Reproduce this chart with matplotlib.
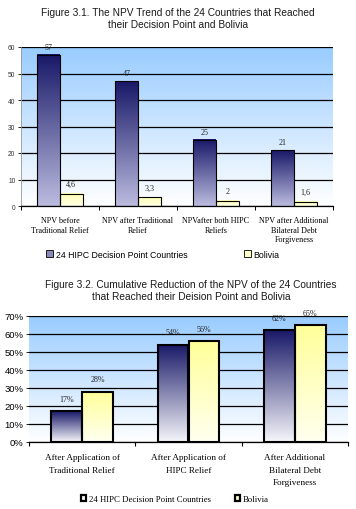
import numpy as np
import matplotlib
matplotlib.use('Agg')
import matplotlib.pyplot as plt
from matplotlib.colors import LinearSegmentedColormap
from matplotlib.patches import Patch

SANS = 'Liberation Sans'
SERIF = 'Liberation Serif'

# Figure 3.1 data
npv_categories = ['NPV before\nTraditional Relief', 'NPV after Traditional\nRelief',
                  'NPVafter both HIPC\nReliefs', 'NPV after Additional\nBilateral Debt\nForgiveness']
npv_hipc = [57, 47, 25, 21]
npv_bolivia = [4.6, 3.3, 2, 1.6]
npv_hipc_labels = ['57', '47', '25', '21']
npv_bolivia_labels = ['4,6', '3,3', '2', '1,6']

# Figure 3.2 data
red_categories = ['After Application of\nTraditional Relief', 'After Application of\nHIPC Relief',
                  'After Additional\nBilateral Debt\nForgiveness']
red_hipc = [17, 54, 62]
red_bolivia = [28, 56, 65]

series_names = ['24 HIPC Decision Point Countries', 'Bolivia']


def gradient_bg(ax):
    cmap = LinearSegmentedColormap.from_list('bg', ['#ffffff', '#99ccff'])
    grad = np.linspace(0, 1, 256).reshape(-1, 1)
    ax.imshow(grad, cmap=cmap, extent=[0, 1, 0, 1], origin='lower', aspect='auto',
              transform=ax.transAxes, zorder=0)


def gradient_bars(ax, bars, bottom, top):
    cmap = LinearSegmentedColormap.from_list('g', [bottom, top])
    grad = np.linspace(0, 1, 256).reshape(-1, 1)
    for b in bars:
        x, w, h = b.get_x(), b.get_width(), b.get_height()
        ax.imshow(grad, cmap=cmap, extent=[x, x + w, 0, h], origin='lower',
                  aspect='auto', zorder=2)
        b.set_facecolor('none')


fig = plt.figure(figsize=(3.56, 5.10), dpi=100)

# ---------- Figure 3.1 ----------
fig.text(0.5, 1 - 18.5 / 510,
         'Figure 3.1. The NPV Trend of the 24 Countries that Reached\ntheir Decision Point and Bolivia',
         ha='center', va='center', fontsize=7.3, family=SANS, linespacing=1.25, color='#1a1a1a')

ax1 = fig.add_axes([21 / 356, 1 - 207 / 510, 312 / 356, 159 / 510])
x = np.arange(len(npv_categories))
w = 0.29
b1 = ax1.bar(x - w / 2, npv_hipc, w, edgecolor='black', linewidth=0.8, zorder=3)
b2 = ax1.bar(x + w / 2, npv_bolivia, w, edgecolor='black', linewidth=0.8, zorder=3)
gradient_bg(ax1)
gradient_bars(ax1, b1, '#bcbce0', '#181868')
gradient_bars(ax1, b2, '#ffffe6', '#ffffb4')
ax1.bar_label(b1, labels=npv_hipc_labels, padding=3, fontsize=5.8, family=SERIF, color='#222222')
ax1.bar_label(b2, labels=npv_bolivia_labels, padding=4, fontsize=5.8, family=SERIF, color='#222222')
ax1.set_xlim(-0.5, 3.5)
ax1.set_ylim(0, 60)
ax1.set_yticks(range(0, 61, 10))
ax1.yaxis.grid(True, color='black', linewidth=0.9)
ax1.set_axisbelow(True)
ax1.set_xticks(x)
ax1.set_xticklabels(npv_categories, fontsize=5.9, family=SERIF, linespacing=1.3)
ax1.set_xticks(np.arange(-0.5, 4, 1), minor=True)
ax1.tick_params(axis='x', which='major', length=0, pad=7)
ax1.tick_params(axis='x', which='minor', length=3, width=0.7)
ax1.tick_params(axis='y', length=2, width=0.6, labelsize=4.8, pad=2, labelcolor='#333333')
for lab in ax1.get_yticklabels():
    lab.set_family(SANS)
for s in ['top', 'right']:
    ax1.spines[s].set_visible(False)
ax1.spines['left'].set_color('#999999')
ax1.spines['left'].set_linewidth(0.6)
ax1.spines['bottom'].set_linewidth(0.9)

fig.legend(handles=[Patch(facecolor='#8a8ab8', edgecolor='black', linewidth=0.6),
                    Patch(facecolor='#ffffc8', edgecolor='black', linewidth=0.6)],
           labels=series_names, loc='center left', bbox_to_anchor=(46 / 356, 1 - 255 / 510),
           ncol=2, frameon=False, prop={'family': SANS, 'size': 6.3},
           handlelength=0.8, handleheight=0.8, handletextpad=0.3, columnspacing=6.5,
           borderpad=0, borderaxespad=0)

# ---------- Figure 3.2 ----------
fig.text(191 / 356, 1 - 291.5 / 510,
         'Figure 3.2. Cumulative Reduction of the NPV of the 24 Countries\nthat Reached their Deision Point and Bolivia',
         ha='center', va='center', fontsize=7.3, family=SANS, linespacing=1.25, color='#1a1a1a')

ax2 = fig.add_axes([29 / 356, 1 - 443 / 510, 319 / 356, 126 / 510])
x2 = np.arange(len(red_categories))
c1 = ax2.bar(x2 - w / 2, red_hipc, w, edgecolor='black', linewidth=1.5, zorder=3)
c2 = ax2.bar(x2 + w / 2, red_bolivia, w, edgecolor='black', linewidth=1.5, zorder=3)
gradient_bg(ax2)
gradient_bars(ax2, c1, '#f6f6fb', '#181868')
gradient_bars(ax2, c2, '#fffff0', '#ffff99')
ax2.bar_label(c1, labels=[f'{v}%' for v in red_hipc], padding=6, fontsize=5.8,
              family=SERIF, color='#222222')
ax2.bar_label(c2, labels=[f'{v}%' for v in red_bolivia], padding=6, fontsize=5.8,
              family=SERIF, color='#222222')
ax2.set_xlim(-0.5, 2.5)
ax2.set_ylim(0, 70)
ax2.set_yticks(range(0, 71, 10))
ax2.set_yticklabels([f'{v}%' for v in range(0, 71, 10)], fontsize=6.8, family=SANS)
ax2.yaxis.grid(True, color='black', linewidth=0.9)
ax2.set_axisbelow(True)
ax2.set_xticks(x2)
ax2.set_xticklabels(red_categories, fontsize=6.6, family=SERIF, linespacing=1.75)
ax2.set_xticks(np.arange(-0.5, 3, 1), minor=True)
ax2.tick_params(axis='x', which='major', length=0, pad=8)
ax2.tick_params(axis='x', which='minor', length=3, width=0.8)
ax2.tick_params(axis='y', length=2, width=0.6, pad=2)
for s in ['top', 'right', 'left']:
    ax2.spines[s].set_visible(False)
ax2.spines['bottom'].set_linewidth(0.9)

fig.legend(handles=[Patch(facecolor='#ffffff', edgecolor='black', linewidth=1.6),
                    Patch(facecolor='#ffffc8', edgecolor='black', linewidth=1.6)],
           labels=series_names, loc='center left', bbox_to_anchor=(81 / 356, 1 - 500 / 510),
           ncol=2, frameon=False, prop={'family': SERIF, 'size': 6.3},
           handlelength=0.6, handleheight=0.6, handletextpad=0.3, columnspacing=2.7,
           borderpad=0, borderaxespad=0)

fig.savefig('out.png', dpi=100)
